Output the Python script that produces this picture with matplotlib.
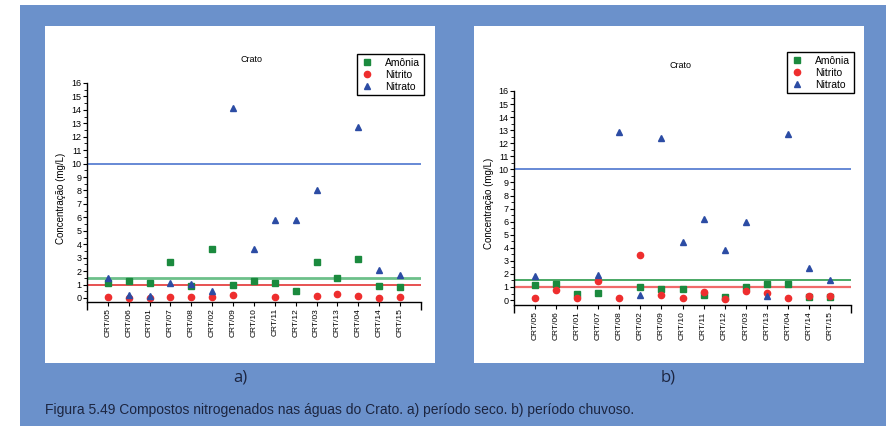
import numpy as np
import matplotlib
matplotlib.use("Agg")
import matplotlib.pyplot as plt
from matplotlib.patches import Rectangle
from matplotlib.ticker import MultipleLocator, FixedLocator

plt.rcParams['font.family'] = ['Liberation Sans', 'DejaVu Sans']

nan = np.nan
pontos = ["CRT/05", "CRT/06", "CRT/01", "CRT/07", "CRT/08", "CRT/02", "CRT/09", "CRT/10",
          "CRT/11", "CRT/12", "CRT/03", "CRT/13", "CRT/04", "CRT/14", "CRT/15"]

# a) periodo seco
amonia_seco = [1.12, 1.24, 1.10, 2.71, 0.92, 3.61, 0.95, 1.29, 1.10, 0.55, 2.71, 1.47, 2.89, 0.92, 0.85]
nitrito_seco = [0.07, 0.02, 0.03, 0.10, 0.07, 0.05, 0.25, nan, 0.07, nan, 0.17, 0.30, 0.17, 0.03, 0.10]
nitrato_seco = [1.47, 0.20, 0.17, 1.14, 1.05, 0.55, 14.13, 3.68, 5.77, 5.77, 8.01, nan, 12.69, 2.11, 1.69]

# b) periodo chuvoso
amonia_chuva = [1.12, 1.25, 0.48, 0.51, nan, 1.02, 0.84, 0.82, 0.36, 0.25, 1.02, 1.20, 1.20, 0.25, 0.20]
nitrito_chuva = [0.18, 0.76, 0.13, 1.43, 0.13, 3.41, 0.41, 0.15, 0.59, 0.10, 0.66, 0.51, 0.18, 0.28, 0.33]
nitrato_chuva = [1.81, nan, nan, 1.91, 12.84, 0.41, 12.38, 4.48, 6.24, 3.82, 6.01, 0.33, 12.74, 2.42, 1.50]

# limites (mg/L)
lim_nitrato = 10
lim_amonia = 1.5
lim_nitrito = 1.0

W, H = 887, 426
BLUE_BG = "#6b91cb"
C_AM = "#1b8a3e"
C_NI = "#ee2e2e"
C_NA = "#2c4ca4"


def fx(px):
    return px / W


def fy(py):
    return 1 - py / H


fig = plt.figure(figsize=(W / 100, H / 100), dpi=100)
fig.patch.set_facecolor("white")

# background frame
fig.patches.append(Rectangle((fx(20), 0), fx(W - 20), fy(5), transform=fig.transFigure,
                             facecolor=BLUE_BG, edgecolor="none", zorder=-3))
for x0, x1 in [(45, 435), (474, 864)]:
    fig.patches.append(Rectangle((fx(x0), fy(363)), fx(x1 - x0), fy(26) - fy(363),
                                 transform=fig.transFigure, facecolor="white",
                                 edgecolor="none", zorder=-2))


def painel(box, ybot, am, ni, na, title_xy, leg_xy, ylab_xy, green_style, red_style):
    left, right, top, bottom = box
    ax = fig.add_axes([fx(left), fy(bottom), fx(right - left), fy(top) - fy(bottom)])
    ax.patch.set_alpha(0)
    x = np.arange(1, len(pontos) + 1)

    ax.axhline(lim_nitrato, color="#5b80d2", lw=1.3, zorder=1)
    ax.axhline(lim_amonia, zorder=1, **green_style)
    ax.axhline(lim_nitrito, zorder=1, **red_style)

    ax.plot(x, am, ls="none", marker="s", ms=4.2, color=C_AM, label="Amônia", zorder=3)
    ax.plot(x, ni, ls="none", marker="o", ms=4.5, color=C_NI, label="Nitrito", zorder=3)
    ax.plot(x, na, ls="none", marker="^", ms=5, color=C_NA, label="Nitrato", zorder=4)

    ax.set_xlim(0, 16)
    ax.set_ylim(ybot, 16)
    for s in ["top", "right"]:
        ax.spines[s].set_visible(False)
    ax.spines["left"].set_bounds(ybot, 16)
    for s in ["left", "bottom"]:
        ax.spines[s].set_linewidth(1)

    ax.set_xticks(x)
    ax.set_xticklabels(pontos, rotation=90, fontsize=6)
    ax.xaxis.set_minor_locator(FixedLocator([0, 16]))
    ax.tick_params(axis="x", which="major", length=3, width=0.8, pad=1.5)
    ax.tick_params(axis="x", which="minor", length=6, width=1)
    ax.set_yticks(range(0, 17))
    ax.yaxis.set_minor_locator(MultipleLocator(0.5))
    ax.tick_params(axis="y", which="major", length=3, width=0.8, labelsize=6.5, pad=1)
    ax.tick_params(axis="y", which="minor", length=2, width=0.6)

    fig.text(fx(title_xy[0]), fy(title_xy[1]), "Crato", fontsize=6.5, ha="center", va="center")
    fig.text(fx(ylab_xy[0]), fy(ylab_xy[1]), "Concentração (mg/L)", fontsize=7,
             rotation=90, ha="center", va="center")

    leg = ax.legend(loc="upper right", bbox_to_anchor=(fx(leg_xy[0]), fy(leg_xy[1])),
                    bbox_transform=fig.transFigure, borderaxespad=0, fancybox=False,
                    framealpha=1, edgecolor="black", fontsize=7.5, handlelength=1.2,
                    handletextpad=1.2, labelspacing=0.2, borderpad=0.35, numpoints=1)
    leg.get_frame().set_linewidth(1)
    return ax


painel((87, 421, 83, 302), -0.3, amonia_seco, nitrito_seco, nitrato_seco,
       (252, 59), (424, 54), (61, 198),
       dict(color="#6cc08a", lw=2), dict(color="#e02222", lw=1.1))
painel((514, 851, 91, 305), -0.38, amonia_chuva, nitrito_chuva, nitrato_chuva,
       (681, 66), (854, 52), (489, 203),
       dict(color="#2a9a4a", lw=1.2), dict(color="#f06a6a", lw=1.6))

fig.text(fx(240), fy(378), "a)", fontsize=12, ha="center", va="center", color="#1c2540",
         family=["Open Sans", "DejaVu Sans"])
fig.text(fx(668), fy(378), "b)", fontsize=12, ha="center", va="center", color="#1c2540",
         family=["Open Sans", "DejaVu Sans"])
fig.text(fx(45), fy(410), "Figura 5.49 Compostos nitrogenados nas águas do Crato. a) período seco. b) período chuvoso.",
         fontsize=10, ha="left", va="center", color="#1c2540")

fig.savefig("out.png", dpi=100)
